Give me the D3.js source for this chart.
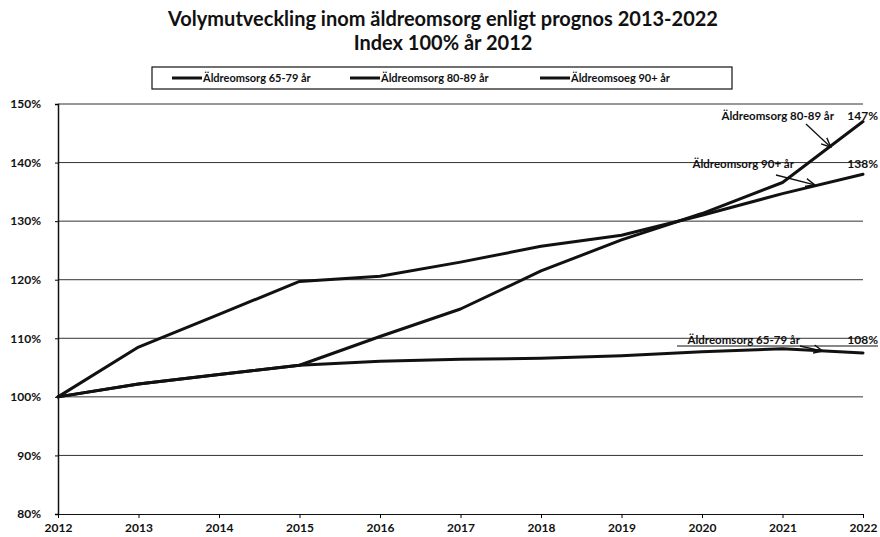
<!DOCTYPE html>
<html>
<head>
<meta charset="utf-8">
<script src="https://cdn.jsdelivr.net/npm/d3@7"></script>
<style>
  body { margin: 0; background: #fff; }
  svg text { font-family: Lato, "Open Sans", sans-serif; font-weight: bold; fill: #111; }
</style>
</head>
<body>
<svg id="chart" width="880" height="537"></svg>
<script>
// Volymutveckling äldreomsorg, index 2012 = 100
const years = [2012, 2013, 2014, 2015, 2016, 2017, 2018, 2019, 2020, 2021, 2022];
const age6579 = [100, 102.2, 103.8, 105.4, 106.1, 106.4, 106.6, 107.0, 107.7, 108.2, 107.5];
const age8089 = [100, 102.2, 103.8, 105.4, 110.3, 115.0, 121.5, 126.8, 131.3, 136.6, 147.0];
const age90 = [100, 108.5, 114.1, 119.7, 120.6, 123.0, 125.7, 127.6, 131.0, 134.7, 138.0];
const yTicks = [80, 90, 100, 110, 120, 130, 140, 150];
const legendLabels = ['Äldreomsorg 65-79 år', 'Äldreomsorg 80-89 år', 'Äldreomsoeg 90+ år'];

const svg = d3.select('#chart');
const margin = { top: 104, right: 17, bottom: 23, left: 58 };
const width = 880 - margin.left - margin.right;
const height = 537 - margin.top - margin.bottom;

const x = d3.scaleLinear().domain([2012, 2022]).range([margin.left, margin.left + width]);
const y = d3.scaleLinear().domain([80, 150]).range([margin.top + height, margin.top]);

// Title
svg.append('text').attr('x', 443).attr('y', 26).attr('text-anchor', 'middle')
  .style('font-size', '20px').text('Volymutveckling inom äldreomsorg enligt prognos 2013-2022');
svg.append('text').attr('x', 443).attr('y', 50).attr('text-anchor', 'middle')
  .style('font-size', '20px').text('Index 100% år 2012');

// Legend
const legend = svg.append('g');
legend.append('rect').attr('x', 152).attr('y', 67).attr('width', 580).attr('height', 22)
  .attr('fill', 'none').attr('stroke', '#111').attr('stroke-width', 1.2);
const legendX = [172, 350, 540];
legendLabels.forEach((lab, i) => {
  legend.append('line').attr('x1', legendX[i]).attr('x2', legendX[i] + 30)
    .attr('y1', 78).attr('y2', 78).attr('stroke', '#111').attr('stroke-width', 3);
  legend.append('text').attr('x', legendX[i] + 31).attr('y', 82)
    .style('font-size', '11px').text(lab);
});

// Gridlines
svg.append('g').selectAll('line').data(yTicks.slice(1)).enter().append('line')
  .attr('x1', margin.left).attr('x2', margin.left + width)
  .attr('y1', d => y(d)).attr('y2', d => y(d))
  .attr('stroke', '#333').attr('stroke-width', 1);

// Axes
const yAxis = svg.append('g').attr('transform', `translate(${margin.left},0)`)
  .call(d3.axisLeft(y).tickValues(yTicks).tickFormat(d => d + '%').tickSize(3));
yAxis.select('.domain').attr('stroke', '#111').attr('stroke-width', 1.5);
yAxis.selectAll('text').style('font-size', '12px').attr('x', -17);

const xAxis = svg.append('g').attr('transform', `translate(0,${margin.top + height})`)
  .call(d3.axisBottom(x).tickValues(years).tickFormat(d3.format('d')).tickSize(4).tickSizeOuter(0));
xAxis.select('.domain').attr('stroke', '#111').attr('stroke-width', 1.2);
xAxis.selectAll('text').style('font-size', '12px').attr('y', 9);

// Lines
const line = d3.line().x((d, i) => x(years[i])).y(d => y(d));
[age6579, age8089, age90].forEach(series => {
  svg.append('path').datum(series).attr('d', line)
    .attr('fill', 'none').attr('stroke', '#111').attr('stroke-width', 3)
    .attr('stroke-linejoin', 'round').attr('stroke-linecap', 'round');
});

// Annotations
const defs = svg.append('defs');
defs.append('marker').attr('id', 'arrow').attr('viewBox', '0 0 10 10')
  .attr('refX', 9).attr('refY', 5).attr('markerWidth', 8).attr('markerHeight', 8)
  .attr('orient', 'auto-start-reverse')
  .append('path').attr('d', 'M0,1 L9,5 L0,9').attr('fill', 'none').attr('stroke', '#111').attr('stroke-width', 1.4);

function annotate(label, endValue, tx, ty, ax, ay, bx, by, underline) {
  svg.append('text').attr('x', tx).attr('y', ty).attr('text-anchor', 'end')
    .style('font-size', '11.5px').text(label);
  svg.append('text').attr('x', 878).attr('y', ty).attr('text-anchor', 'end')
    .style('font-size', '12px').text(Math.round(endValue) + '%');
  svg.append('line').attr('x1', ax).attr('y1', ay).attr('x2', bx).attr('y2', by)
    .attr('stroke', '#111').attr('stroke-width', 1.3).attr('marker-end', 'url(#arrow)');
  if (underline) {
    svg.append('line').attr('x1', tx - 123).attr('x2', 878).attr('y1', ty + 2).attr('y2', ty + 2)
      .attr('stroke', '#111').attr('stroke-width', 1);
  }
}
annotate(legendLabels[1], age8089[10], 834, 120, 806, 124, x(2021.6), y(age8089[10] - 4.2) + 1, false);
annotate('Äldreomsorg 90+ år', age90[10], 794, 168, 776, 175, x(2021.4), y(136.2), false);
annotate(legendLabels[0], age6579[10], 800, 344, 800, 346, x(2021.5), y(107.8), true);
</script>
</body>
</html>
